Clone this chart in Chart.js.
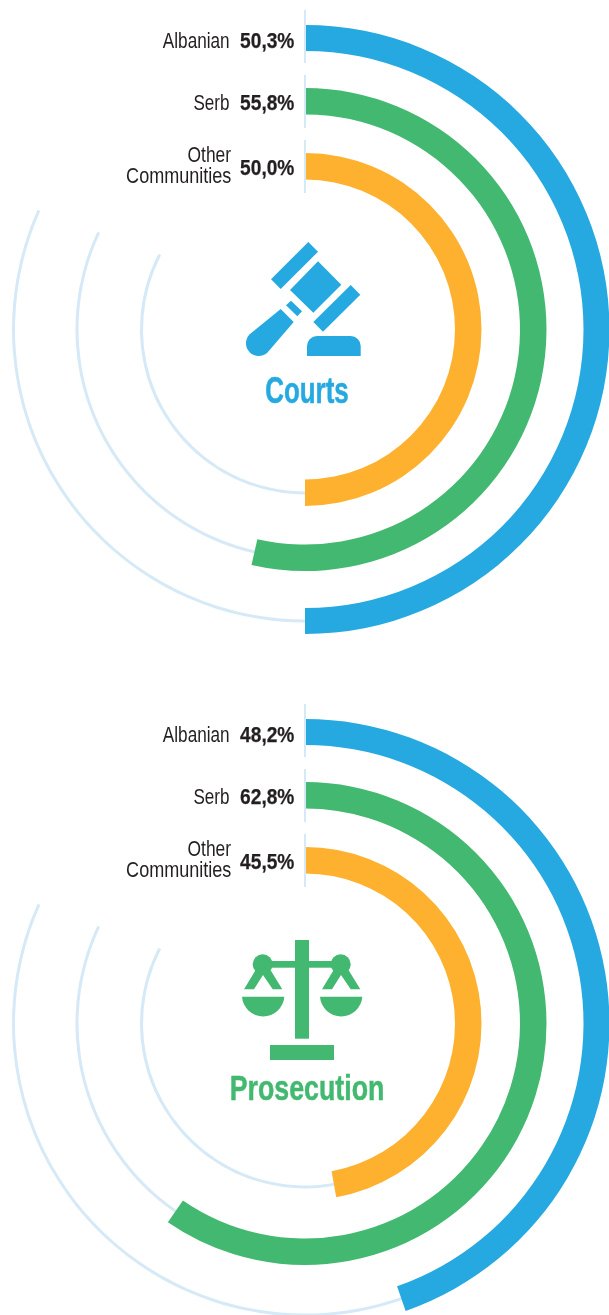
<!DOCTYPE html>
<html><head><meta charset="utf-8">
<script src="https://cdn.jsdelivr.net/npm/chart.js@4"></script>
<style>
html,body{margin:0;padding:0;background:#fff}
body{width:609px;height:1315px;overflow:hidden;position:relative;font-family:"Liberation Sans",sans-serif;color:#231f20}
.panel{position:absolute;left:0;width:610px;height:660px}
canvas{position:absolute;left:0;top:0}
.tick{position:absolute;left:303.5px;width:2.5px;height:53px;background:#d6e9f7}
.t{position:absolute;white-space:nowrap;text-align:right;line-height:21px;font-size:22px}
.v{font-weight:bold;-webkit-text-stroke:.25px #231f20}
.title{position:absolute;font-weight:bold;line-height:40px;text-align:center;white-space:nowrap;-webkit-text-stroke:.5px currentColor}
svg{position:absolute;left:0;top:0}
</style></head><body>
<div class="panel" id="p0" style="top:0"><canvas id="t0"></canvas><canvas id="c0"></canvas>
<svg width="610" height="660" fill="#25a9e0">
<polygon points="271,279.3 308.3,242 318,251.7 280.7,289"/>
<polygon points="290,290 318,261.3 341.3,284.7 313.3,312.7"/>
<polygon points="313.3,322 350.7,285 360.3,294.7 323,331.7"/>
<polygon points="286,305.3 291,300.7 302,311.3 297.3,316.3"/>
<path d="M280.7 309 L293.7 322 L267.7 352.3 A12.7 12.7 0 0 1 249.7 334.3 Z"/>
<path d="M307 356 V346 A10 10 0 0 1 317 336 H350.7 A10 10 0 0 1 360.7 346 V356 Z"/>
</svg></div>
<div class="panel" id="p1" style="top:694px;height:621px;overflow:hidden"><canvas id="t1"></canvas><canvas id="c1"></canvas>
<svg width="610" height="621" fill="#42b870" viewBox="0 694 610 621">
<rect x="295" y="940" width="14" height="98.7"/>
<rect x="270" y="1045" width="64" height="15"/>
<rect x="263" y="961" width="77" height="6.7"/>
<circle cx="262.7" cy="964.3" r="10"/><circle cx="340.7" cy="964.3" r="10"/>
<polygon points="256.7,968.3 244,989.3 254,989.3 263,975 272.7,989.3 282.3,989.3 270,969.3"/>
<polygon points="334.7,968.3 322,989.3 332,989.3 341,975 350.7,989.3 360.3,989.3 348,969.3"/>
<path d="M242 996.7 H284.3 A21.2 21.2 0 0 1 242 996.7 Z"/>
<path d="M320 996.7 H362.3 A21.2 21.2 0 0 1 320 996.7 Z"/>
</svg></div>
<script>
const categories = ["Albanian", "Serb", "Other Communities"];
const ringColors = ["#25a9e0", "#42b870", "#fdb12e"];
const trackColor = "#d6e9f7";
const panelTitles = ["Courts", "Prosecution"];
const titleColors = ["#25a9e0", "#42b870"];
const courtsPercent = [50.3, 55.8, 50.0];
const prosecutionPercent = [48.2, 62.8, 45.5];
// arc lengths in degrees as drawn in the picture
const courtsSweep = [180, 192.8, 180];
const prosecutionSweep = [160.7, 214.6, 169.8];
const trackSweep = [294.1, 295.2, 297.3];

const ringWeights = [26, 26.5, 26.5];
const gapWeights = [37, 38.5];
const trackWeight = 3;
const trackGaps = [11.5, 60.5, 61.5];

const pad = {left: .5, right: .5, top: 25, bottom: 26};
function baseOptions(cutout){
  return {responsive:false, animation:false, cutout, events:[],
    layout:{padding:pad},
    plugins:{legend:{display:false}, tooltip:{enabled:false}},
    elements:{arc:{borderWidth:0}}};
}
function spacer(weight){ return {data:[1], backgroundColor:["rgba(0,0,0,0)"], weight, borderWidth:0}; }
function drawPanel(i, sweeps){
  [document.getElementById('t'+i), document.getElementById('c'+i)].forEach(c=>{c.width=610;c.height=660;c.style.width='610px';c.style.height='660px';});
  const valueSets = [];
  sweeps.forEach((s,k)=>{
    valueSets.push({data:[s,360-s], backgroundColor:[ringColors[k],"rgba(0,0,0,0)"], weight:ringWeights[k], borderWidth:0});
    if(k<gapWeights.length) valueSets.push(spacer(gapWeights[k]));
  });
  new Chart(document.getElementById('c'+i),{type:'doughnut',data:{labels:[categories[0],'rest'],datasets:valueSets},options:baseOptions(150)});
  const trackSets = [];
  trackSweep.forEach((s,k)=>{
    trackSets.push(spacer(trackGaps[k]));
    trackSets.push({data:[s,360-s], backgroundColor:[trackColor,"rgba(0,0,0,0)"], weight:trackWeight, borderWidth:0});
  });
  new Chart(document.getElementById('t'+i),{type:'doughnut',data:{labels:['track','rest'],datasets:trackSets},options:baseOptions(162)});
}
drawPanel(0, courtsSweep);
drawPanel(1, prosecutionSweep);

function put(parent, cls, text, rightX, top, sx){
  const d=document.createElement('div');
  d.className=cls; d.textContent=text;
  d.style.right=(610-rightX)+'px'; d.style.top=top+'px';
  d.style.transformOrigin='right center';d.style.transform='scaleX('+sx+')';
  parent.appendChild(d);
}
const tickTops=[10,75,140];
[courtsPercent,prosecutionPercent].forEach((vals,i)=>{
  const p=document.getElementById('p'+i);
  tickTops.forEach(y=>{const d=document.createElement('div');d.className='tick';d.style.top=y+'px';p.appendChild(d);});
  put(p,'t',categories[0],229.5,30,.78);
  put(p,'t',categories[1],229.5,92,.775);
  const w=categories[2].split(' ');
  put(p,'t',w[0],231.5,143.5,.79);
  put(p,'t',w[1],231.5,164.5,.82);
  [30,92,157].forEach((y,k)=>{
    put(p,'t v',vals[k].toFixed(1).replace('.',',')+'%',294.5,y,.87);
  });
  const d=document.createElement('div');
  d.className='title'; d.textContent=panelTitles[i]; d.style.color=titleColors[i];
  d.style.left='0';d.style.width='614px';d.style.top=(i==0?371:374-0)+'px';
  d.style.fontSize=(i==0?37:35)+'px';
  d.style.transform='scaleX('+(i==0?.7:.765)+')';
  p.appendChild(d);
});
</script>
</body></html>
